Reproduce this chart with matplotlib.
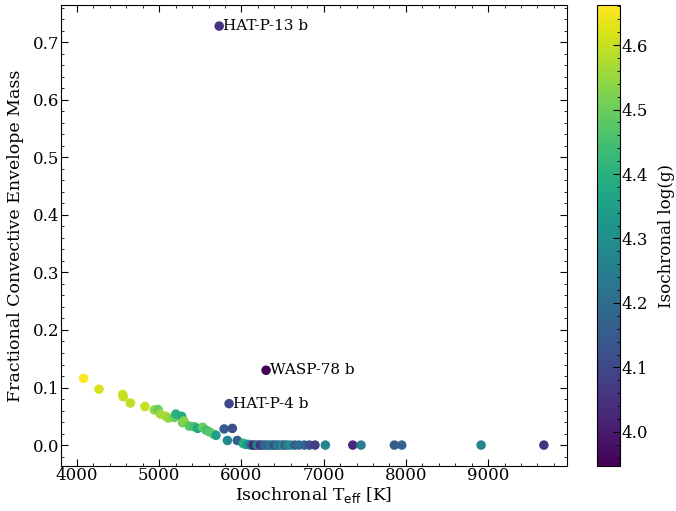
import numpy as np
import matplotlib
matplotlib.use('Agg')
import matplotlib.pyplot as plt

plt.rcParams['font.family'] = 'DejaVu Serif'
plt.rcParams['font.size'] = 12

# Isochronal Teff [K], fractional convective envelope mass, isochronal log(g)
teff = [4081, 4268, 4556, 4563, 4650, 4827, 4941, 4985, 5014, 5083,
        5111, 5184, 5204, 5273, 5285, 5300, 5366, 5427, 5468, 5529,
        5569, 5610, 5663, 5691, 5790, 5890, 5830, 5950, 6020, 6040,
        6060, 6090, 6120, 6150, 6180, 6200, 6230, 6260, 6290, 6320,
        6350, 6380, 6410, 6440, 6470, 6500, 6530, 6560, 6600, 6650,
        6700, 6765, 6826, 6895, 7021, 7354, 7455, 7860, 7950, 8915, 9678]
fconv = [0.116, 0.097, 0.088, 0.084, 0.073, 0.067, 0.061, 0.062, 0.054, 0.050,
         0.047, 0.048, 0.054, 0.050, 0.039, 0.042, 0.033, 0.032, 0.029, 0.031,
         0.026, 0.023, 0.019, 0.017, 0.028, 0.029, 0.008, 0.008, 0.003, 0.002,
         0.001, 0.001, 0.000, 0.000, 0.000, 0.000, 0.000, 0.000, 0.000, 0.000,
         0.000, 0.000, 0.000, 0.000, 0.000, 0.000, 0.000, 0.000, 0.000, 0.000,
         0.000, 0.000, 0.000, 0.000, 0.000, 0.000, 0.000, 0.000, 0.000, 0.000, 0.000]
logg = [4.662, 4.62, 4.61, 4.60, 4.59, 4.60, 4.55, 4.50, 4.56, 4.57,
        4.55, 4.50, 4.40, 4.38, 4.50, 4.53, 4.47, 4.45, 4.38, 4.50,
        4.45, 4.47, 4.48, 4.35, 4.15, 4.12, 4.28, 4.15, 4.35, 4.42,
        4.35, 4.30, 4.20, 4.00, 4.15, 4.28, 4.05, 4.10, 4.20, 4.15,
        4.25, 4.18, 4.12, 4.25, 4.20, 4.30, 4.15, 4.25, 4.30, 4.15,
        4.20, 4.18, 4.12, 4.08, 4.27, 4.03, 4.25, 4.15, 4.17, 4.27, 4.05]

# labelled planets
names = ['HAT-P-13 b', 'WASP-78 b', 'HAT-P-4 b']
teff_lab = [5730, 6300, 5850]
fconv_lab = [0.728, 0.130, 0.072]
logg_lab = [4.05, 3.947, 4.10]

fig = plt.figure(figsize=(6.76, 5.11), dpi=100)
ax = fig.add_axes([0.0896, 0.088, 0.749, 0.902])
cax = fig.add_axes([0.883, 0.088, 0.034, 0.902])

all_t = teff + teff_lab
all_f = fconv + fconv_lab
all_g = logg + logg_lab
sc = ax.scatter(all_t, all_f, c=all_g, cmap='viridis', s=34,
                vmin=min(all_g), vmax=max(all_g))

for n, t, f in zip(names, teff_lab, fconv_lab):
    ax.annotate(n, xy=(t, f), xytext=(3, 0), textcoords='offset points',
                va='center', ha='left', fontsize=11)

ax.set_xlabel(r'Isochronal T$_{\rm eff}$ [K]', fontsize=12.3, labelpad=1)
ax.set_ylabel('Fractional Convective Envelope Mass', fontsize=12.5, labelpad=7)
ax.minorticks_on()
ax.tick_params(which='both', direction='in', top=True, right=True)
ax.tick_params(which='major', length=5, pad=0.6)
ax.tick_params(which='minor', length=2.5)

cb = fig.colorbar(sc, cax=cax)
cb.set_label('Isochronal log(g)', labelpad=7)
cb.minorticks_on()
cax.tick_params(which='both', direction='in')
cax.tick_params(which='major', length=5, pad=1)
cax.tick_params(which='minor', length=2.5)

fig.savefig('out.png', dpi=100)
